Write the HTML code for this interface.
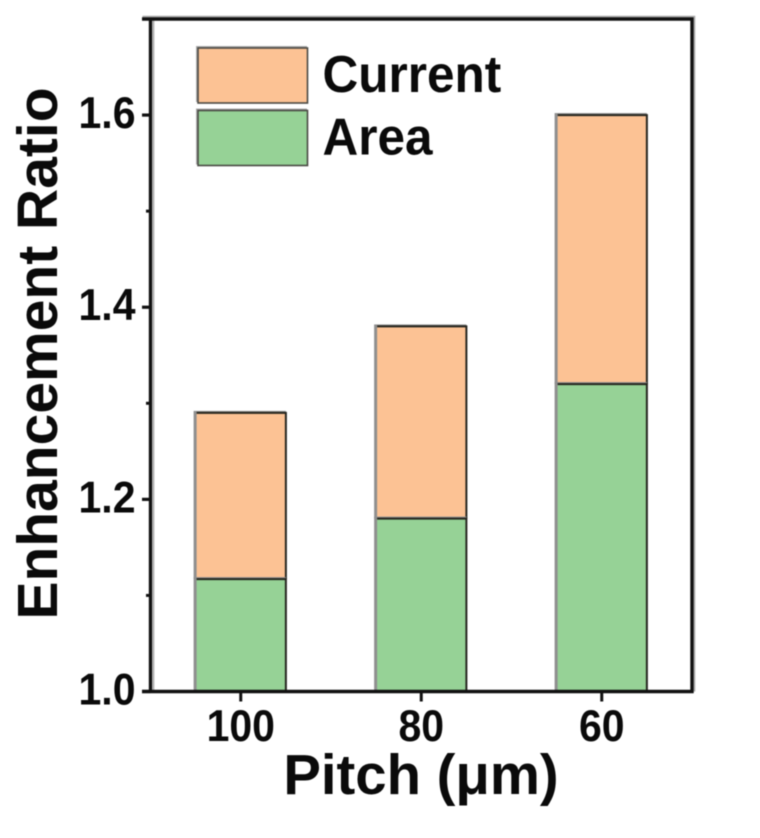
<!DOCTYPE html>
<html><head><meta charset="utf-8">
<style>
html,body{margin:0;padding:0;background:#fff;width:760px;height:838px;overflow:hidden}
svg{display:block}
text{font-family:"Liberation Sans",sans-serif;font-weight:bold;fill:#0a0a0a}
</style></head>
<body>
<svg id="chart" width="760" height="838" viewBox="0 0 760 838" xmlns="http://www.w3.org/2000/svg">
<g id="root" style="filter:blur(0.65px)"></g>
</svg>
<script>
const categories = ['100', '80', '60'];
const areaValues = [1.117, 1.18, 1.32];
const currentValues = [0.173, 0.2, 0.28];
const yTickLabels = ['1.0', '1.2', '1.4', '1.6'];
const yMinorTicks = [1.1, 1.3, 1.5];
const seriesNames = ['Current', 'Area'];

const NS = 'http://www.w3.org/2000/svg';
const root = document.getElementById('root');
const L = 150.5, R = 692, T = 19, B = 691.5;
const y = v => B + (v - 1.0) * (T - B) / 0.7;
const step = (R - L) / categories.length;
const x = i => L + step * (i + 0.5);
const barW = step * 0.5;
const orange = '#fcc294', green = '#96d296', edge = '#26261f';

function make(tag, attrs, parent) {
  const el = document.createElementNS(NS, tag);
  for (const k in attrs) el.setAttribute(k, attrs[k]);
  (parent || root).appendChild(el);
  return el;
}
function bar(cx, v0, v1, fill) {
  const g = make('g', {});
  const top = y(v1), bot = y(v0);
  const l = cx - barW / 2, r = cx + barW / 2;
  make('rect', {x: l - 2, y: top - 2, width: barW + 2, height: bot - top + 2, fill: '#8f8f8f'}, g);
  make('rect', {x: l + 1, y: top, width: barW - 1, height: bot - top, fill: fill}, g);
  make('path', {d: `M${l + 1} ${top}H${r}V${bot}`, fill: 'none', stroke: edge, 'stroke-width': 2}, g);
  return g;
}

categories.forEach((c, i) => {
  const b = bar(x(i), areaValues[i], areaValues[i] + currentValues[i], orange);
  
  
  const a = bar(x(i), 1.0, areaValues[i], green);
  
  
});

const halo = make('path', {d: `M${L - 8} ${T - 2.5}H${R + 2.5}V${B}M${L + 3} ${T}V${B}`, fill: 'none', stroke: '#aaa', 'stroke-width': 1.6});



const frame = make('path', {d: `M${L - 8.5} ${T}H${R}V${B}H${L - 8.5}M${L} ${T}V${B}`, fill: 'none', stroke: '#111', 'stroke-width': 3.4});



yTickLabels.forEach(t => {
  const v = parseFloat(t);
  const tick = make('line', {x1: L - 8.5, x2: L, y1: y(v), y2: y(v), stroke: '#111', 'stroke-width': 3.2});
  
  
  const lab = make('text', {transform: `translate(135.5,${y(v) + 13}) scale(1,1.08)`, 'text-anchor': 'end', 'font-size': 41});
  lab.textContent = t;
  
  
});
yMinorTicks.forEach(v => {
  const tick = make('line', {x1: L - 4.5, x2: L, y1: y(v), y2: y(v), stroke: '#111', 'stroke-width': 3});
  
  
});
categories.forEach((c, i) => {
  const tick = make('line', {x1: x(i), x2: x(i), y1: B, y2: B + 10, stroke: '#111', 'stroke-width': 3});
  
  
  const lab = make('text', {transform: `translate(${x(i)},741) scale(1,1.08)`, 'text-anchor': 'middle', 'font-size': 41});
  lab.textContent = c;
  
  
});

const xt = make('text', {x: 421, y: 794, 'text-anchor': 'middle', 'font-size': 56.3});
xt.textContent = 'Pitch (μm)';



const yt = make('text', {transform: 'translate(57,353.5) rotate(-90)', 'text-anchor': 'middle', 'font-size': 57});
yt.textContent = 'Enhancement Ratio';



seriesNames.forEach((s, i) => {
  const top = 48 + i * 62.5;
  const sh = make('rect', {x: 196, y: top - 2, width: 111, height: 56, fill: '#aaa'});
  
  
  const sw = make('rect', {x: 198, y: top, width: 109.5, height: 55, fill: i === 0 ? orange : green, stroke: '#4a4a44', 'stroke-width': 1.6});
  
  
  const t = make('text', {transform: `translate(322.5,${top + 44}) scale(1,1.05)`, 'font-size': 49.5});
  t.textContent = s;
  
  
});
</script>
</body></html>
